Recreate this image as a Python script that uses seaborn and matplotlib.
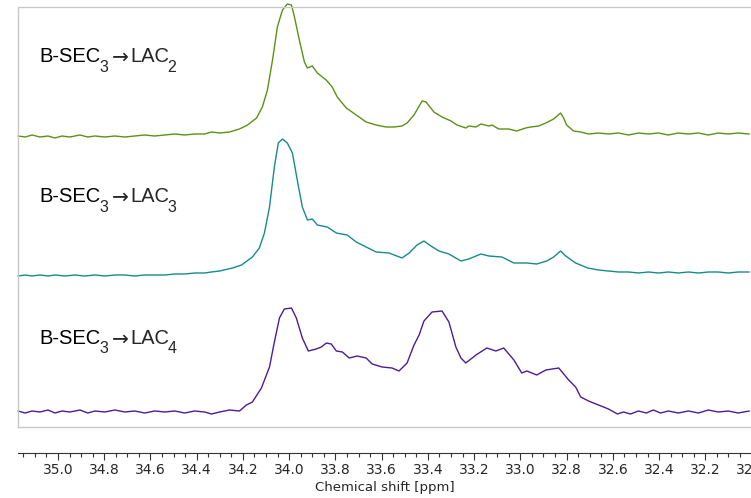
import numpy as np
import pandas as pd
import matplotlib
matplotlib.use("Agg")
import matplotlib.pyplot as plt
import seaborn as sns
from matplotlib.ticker import MultipleLocator

# ---------------- data ----------------
label_main = "B-SEC"
label_sub1 = "3"
label_arrow = r"$\rightarrow$"
label_mid = "LAC"
label_subs = ["2", "3", "4"]

ppm_lac2 = [35.173, 35.142, 35.112, 35.078, 35.043, 35.013, 34.983, 34.948, 34.905, 34.871,
            34.840, 34.797, 34.754, 34.711, 34.668, 34.625, 34.582, 34.538, 34.495, 34.452,
            34.409, 34.366, 34.336, 34.301, 34.258, 34.215, 34.180, 34.141, 34.116, 34.094,
            34.072, 34.051, 34.029, 34.008, 33.990, 33.977, 33.956, 33.934, 33.921, 33.900,
            33.878, 33.840, 33.814, 33.792, 33.753, 33.710, 33.667, 33.624, 33.581, 33.546,
            33.512, 33.490, 33.460, 33.425, 33.408, 33.374, 33.339, 33.300, 33.274, 33.236,
            33.223, 33.192, 33.171, 33.136, 33.123, 33.093, 33.050, 33.016, 32.977, 32.955,
            32.921, 32.890, 32.856, 32.826, 32.813, 32.800, 32.770, 32.739, 32.705, 32.662,
            32.619, 32.575, 32.532, 32.489, 32.446, 32.403, 32.360, 32.317, 32.273, 32.230,
            32.187, 32.144, 32.101, 32.058, 32.010]
int_lac2 = [0, -1, 1, -1, 0, -2, 0, -1, 1, -1,
            0, -1, 0, -1, 0, 1, 0, 1, 2, 1,
            2, 2, 4, 3, 4, 7, 11, 18, 29, 46,
            76, 109, 126, 132, 131, 119, 96, 74, 68, 70,
            63, 56, 49, 39, 28, 21, 14, 11, 9, 9,
            10, 13, 21, 35, 34, 24, 19, 15, 11, 8,
            10, 9, 12, 10, 11, 7, 7, 5, 8, 9,
            10, 13, 17, 23, 18, 11, 5, 4, 2, 3,
            2, 3, 1, 3, 2, 3, 1, 3, 2, 3,
            1, 3, 2, 3, 2]

ppm_lac3 = [35.173, 35.142, 35.112, 35.078, 35.043, 35.013, 34.970, 34.927, 34.884, 34.840,
            34.797, 34.754, 34.711, 34.668, 34.625, 34.582, 34.538, 34.495, 34.452, 34.409,
            34.366, 34.336, 34.301, 34.245, 34.206, 34.159, 34.129, 34.107, 34.085, 34.064,
            34.047, 34.029, 34.008, 33.986, 33.965, 33.943, 33.921, 33.900, 33.878, 33.835,
            33.796, 33.749, 33.710, 33.667, 33.624, 33.568, 33.512, 33.481, 33.447, 33.417,
            33.387, 33.352, 33.309, 33.257, 33.223, 33.171, 33.136, 33.080, 33.028, 32.972,
            32.929, 32.886, 32.856, 32.826, 32.804, 32.761, 32.709, 32.662, 32.619, 32.575,
            32.532, 32.489, 32.446, 32.403, 32.360, 32.317, 32.273, 32.230, 32.187, 32.144,
            32.101, 32.058, 32.010]
int_lac3 = [-1, 0, -1, 0, -1, 0, -1, 0, -1, 0,
            -1, 0, 0, -1, 0, 0, 0, 1, 1, 2,
            2, 3, 4, 7, 10, 18, 27, 42, 68, 108,
            132, 136, 132, 122, 95, 68, 55, 56, 50, 48,
            42, 40, 33, 28, 23, 22, 17, 22, 30, 34,
            29, 24, 21, 14, 16, 21, 19, 18, 12, 12,
            11, 14, 18, 24, 19, 12, 7, 5, 4, 3,
            3, 2, 3, 2, 3, 2, 3, 2, 3, 3,
            2, 3, 3]

ppm_lac4 = [35.173, 35.142, 35.112, 35.078, 35.043, 35.013, 34.983, 34.948, 34.905, 34.871,
            34.840, 34.797, 34.754, 34.711, 34.668, 34.625, 34.582, 34.538, 34.495, 34.452,
            34.409, 34.366, 34.336, 34.301, 34.258, 34.215, 34.185, 34.159, 34.120, 34.085,
            34.064, 34.042, 34.021, 33.990, 33.969, 33.943, 33.917, 33.883, 33.861, 33.839,
            33.818, 33.796, 33.770, 33.740, 33.706, 33.667, 33.641, 33.598, 33.555, 33.525,
            33.490, 33.460, 33.438, 33.417, 33.382, 33.339, 33.309, 33.279, 33.257, 33.236,
            33.192, 33.145, 33.106, 33.072, 33.028, 32.994, 32.972, 32.929, 32.890, 32.834,
            32.791, 32.761, 32.739, 32.705, 32.662, 32.619, 32.580, 32.554, 32.524, 32.489,
            32.455, 32.425, 32.394, 32.360, 32.317, 32.273, 32.230, 32.187, 32.144, 32.101,
            32.058, 32.010]
int_lac4 = [1, -1, 1, 0, 2, -1, 1, 0, 2, -1,
            1, 0, 2, 0, 1, -1, 1, 0, 1, -1,
            1, 0, -2, 0, 2, 1, 7, 10, 24, 45,
            70, 94, 103, 104, 94, 74, 61, 63, 65, 69,
            68, 61, 60, 54, 56, 54, 48, 45, 44, 41,
            49, 67, 77, 91, 100, 101, 90, 65, 54, 49,
            57, 64, 61, 64, 52, 39, 41, 37, 42, 44,
            32, 25, 15, 11, 7, 3, -2, 0, -2, 1,
            -1, 2, -1, 1, -1, 1, -1, 2, 0, 1,
            -1, 1]

offsets = [291, 152, 15]
colors = ["#5a9216", "#178b8b", "#4b1d96"]

major_ticks = [35.0, 34.8, 34.6, 34.4, 34.2, 34.0, 33.8, 33.6, 33.4, 33.2,
               33.0, 32.8, 32.6, 32.4, 32.2, 32.0]

# ---------------- figure ----------------
sns.set_style("white")
plt.rcParams["font.family"] = ["DejaVu Sans"]

fig = plt.figure(figsize=(7.51, 4.98), dpi=100)
W, H = 751.0, 498.0
left_px, right_px, top_px, bot_px = 17.5, 752.5, 7.5, 427.0
ax = fig.add_axes([left_px / W, 1 - bot_px / H, (right_px - left_px) / W, (bot_px - top_px) / H])

series = [(ppm_lac2, int_lac2), (ppm_lac3, int_lac3), (ppm_lac4, int_lac4)]
for (p, i), off, c in zip(series, offsets, colors):
    df = pd.DataFrame({"ppm": p, "y": np.array(i, dtype=float) + off})
    sns.lineplot(data=df, x="ppm", y="y", ax=ax, color=c, linewidth=1.0,
                 sort=False, estimator=None, clip_on=False)

ax.set_xlim(35.175, 31.996)
ax.set_ylim(0, bot_px - top_px)
ax.set_xlabel("")
ax.set_ylabel("")
ax.set_xticks([])
ax.set_yticks([])
for s in ax.spines.values():
    s.set_color("#c8c8c8")
    s.set_linewidth(1.0)

# labels built piecewise so the subscripts sit low like in the reference
fam = ["Liberation Sans", "DejaVu Sans"]
big, small = 14.5, 11.5
text_y = [0.869, 0.536, 0.198]
for sub, ty in zip(label_subs, text_y):
    t1 = ax.text(0.030, ty, label_main, transform=ax.transAxes, fontsize=big,
                 family=fam, va="baseline", ha="left", color="black")
    t2 = ax.annotate(label_sub1, xy=(1.0, ty), xycoords=(t1, ax.transAxes),
                     xytext=(-1.0, -6.8), textcoords="offset points",
                     fontsize=small, family=fam, va="baseline", ha="left")
    t3 = ax.annotate(label_arrow, xy=(1.0, ty), xycoords=(t2, ax.transAxes),
                     xytext=(0.0, 0.3), textcoords="offset points",
                     fontsize=big, va="baseline", ha="left")
    t4 = ax.annotate(label_mid, xy=(1.0, ty), xycoords=(t3, ax.transAxes),
                     xytext=(0.0, 0), textcoords="offset points",
                     fontsize=big, family=fam, va="baseline", ha="left")
    ax.annotate(sub, xy=(1.0, ty), xycoords=(t4, ax.transAxes),
                xytext=(-1.0, -6.8), textcoords="offset points",
                fontsize=small, family=fam, va="baseline", ha="left")

sec = ax.secondary_xaxis(-(453 - bot_px) / (bot_px - top_px))
sec.set_xticks(major_ticks)
sec.set_xticklabels([f"{t:.1f}" for t in major_ticks])
sec.xaxis.set_minor_locator(MultipleLocator(0.05))
sec.tick_params(axis="x", which="major", length=5, width=0.8, color="#333333",
                labelsize=10, pad=2)
sec.tick_params(axis="x", which="minor", length=3, width=0.8, color="#333333")
sec.spines["bottom"].set_color("#333333")
sec.spines["bottom"].set_linewidth(0.8)
sec.set_xlabel("Chemical shift [ppm]", fontsize=9.5, labelpad=3)

fig.savefig("out.png", dpi=100)
